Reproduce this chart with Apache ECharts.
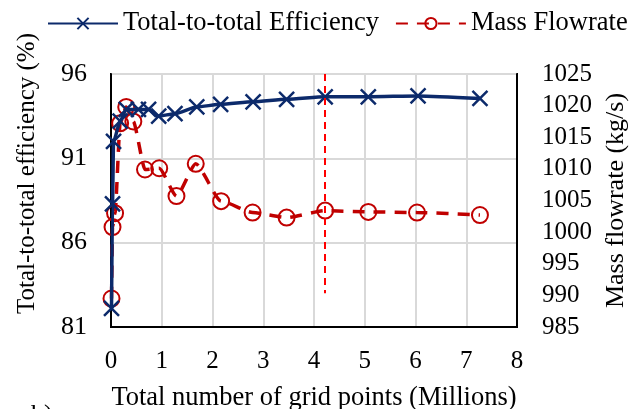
<!DOCTYPE html>
<html>
<head>
<meta charset="utf-8">
<script src="https://cdn.jsdelivr.net/npm/echarts@6/dist/echarts.min.js"></script>
<style>
  html, body { margin: 0; padding: 0; background: #fff; }
  #chart { width: 642px; height: 409px; }
</style>
</head>
<body>
<div id="chart"></div>
<script>
// grid points (millions) vs efficiency
var effX = [0.01, 0.03, 0.05, 0.18, 0.3, 0.54, 0.74, 0.94, 1.26, 1.69, 2.16, 2.8, 3.46, 4.22, 5.07, 6.05, 7.27];
var effY = [82.1, 88.3, 92.0, 93.2, 93.9, 93.9, 93.9, 93.5, 93.65, 94.05, 94.2, 94.35, 94.5, 94.65, 94.65, 94.7, 94.55];

// grid points (millions) vs mass flowrate
var massX = [0.01, 0.03, 0.08, 0.18, 0.3, 0.44, 0.67, 0.95, 1.29, 1.67, 2.17, 2.79, 3.46, 4.22, 5.07, 6.03, 7.27];
var massY = [989.5, 1000.8, 1003.0, 1017.2, 1019.8, 1017.5, 1009.9, 1010.1, 1005.7, 1010.8, 1004.9, 1003.1, 1002.3, 1003.4, 1003.2, 1003.1, 1002.7];

// selected mesh marker (x, from eff value, to eff value)
var selectedMesh = [4.22, 96, 83];

var seriesNames = ['Total-to-total Efficiency', 'Mass Flowrate'];

function pairs(xs, ys) {
    return xs.map(function (x, i) { return [x, ys[i]]; });
}

var dom = document.getElementById('chart');
var myChart = echarts.init(dom, null, { renderer: 'canvas' });

var font = 'Liberation Serif';

var option = {
    animation: false,
    textStyle: { fontFamily: font, color: '#000' },
    legend: {
        data: seriesNames,
        top: 5,
        left: 42,
        itemWidth: 70,
        itemHeight: 14,
        itemGap: 16,
        textStyle: { fontFamily: font, fontSize: 26.5, color: '#000' }
    },
    grid: {
        left: 111,
        right: 125,
        top: 74,
        bottom: 82,
        containLabel: false,
        outerBoundsMode: 'none',
        show: true,
        borderColor: '#000',
        borderWidth: 2
    },
    xAxis: {
        type: 'value',
        min: 0,
        max: 8,
        interval: 1,
        name: 'Total number of grid points (Millions)',
        nameLocation: 'middle',
        nameGap: 58,
        nameTextStyle: { fontFamily: font, fontSize: 26.5, color: '#000' },
        axisLine: { lineStyle: { color: '#000', width: 2 } },
        axisTick: { show: false },
        axisLabel: { fontFamily: font, fontSize: 25, color: '#000', margin: 22 },
        splitLine: { show: true, lineStyle: { color: '#d9d9d9', width: 2 } }
    },
    yAxis: [
        {
            type: 'value',
            min: 81,
            max: 96,
            interval: 5,
            name: 'Total-to-total efficiency (%)',
            nameLocation: 'middle',
            nameGap: 71,
            nameTextStyle: { fontFamily: font, fontSize: 25, color: '#000', padding: [0, 0, 0, 54] },
            axisLine: { show: true, lineStyle: { color: '#000', width: 2 } },
            axisTick: { show: false },
            axisLabel: { fontFamily: font, fontSize: 26, color: '#000', margin: 24 },
            splitLine: { show: true, lineStyle: { color: '#d9d9d9', width: 2 } }
        },
        {
            type: 'value',
            min: 985,
            max: 1025,
            interval: 5,
            name: 'Mass flowrate (kg/s)',
            nameLocation: 'middle',
            nameGap: 84,
            nameRotate: 90,
            nameTextStyle: { fontFamily: font, fontSize: 26, color: '#000' },
            axisLine: { show: true, lineStyle: { color: '#000', width: 2 } },
            axisTick: { show: false },
            axisLabel: {
                fontFamily: font, fontSize: 25, color: '#000', margin: 25,
                formatter: function (v) { return String(v); }
            },
            splitLine: { show: false }
        }
    ],
    series: [
        {
            name: seriesNames[1],
            type: 'line',
            yAxisIndex: 1,
            data: pairs(massX, massY),
            smooth: 0.2,
            smoothMonotone: 'x',
            symbol: 'circle',
            symbolSize: 16,
            itemStyle: { color: 'rgba(255,255,255,0)', borderColor: '#c00000', borderWidth: 2 },
            lineStyle: { color: '#c00000', width: 3.5, type: [12, 9] },
            z: 2
        },
        {
            name: seriesNames[0],
            type: 'line',
            yAxisIndex: 0,
            data: pairs(effX, effY),
            smooth: 0.2,
            smoothMonotone: 'x',
            symbol: 'path://M0,0 L10,10 M10,0 L0,10',
            symbolSize: 15,
            itemStyle: { color: '#0c2a6b', borderColor: '#0c2a6b', borderWidth: 2.5 },
            lineStyle: { color: '#0c2a6b', width: 3.5 },
            markLine: {
                silent: true,
                symbol: 'none',
                label: { show: false },
                lineStyle: { color: '#ff0000', width: 2, type: [7, 5] },
                data: [[
                    { coord: [selectedMesh[0], selectedMesh[1]] },
                    { coord: [selectedMesh[0], selectedMesh[2]] }
                ]]
            },
            z: 3
        }
    ],
    graphic: [
        {
            type: 'text',
            left: 31,
            top: 402,
            style: { text: 'b)', font: '26px "Liberation Serif"', fill: '#000' }
        }
    ]
};

myChart.setOption(option);
window.addEventListener('resize', myChart.resize);
</script>
</body>
</html>
